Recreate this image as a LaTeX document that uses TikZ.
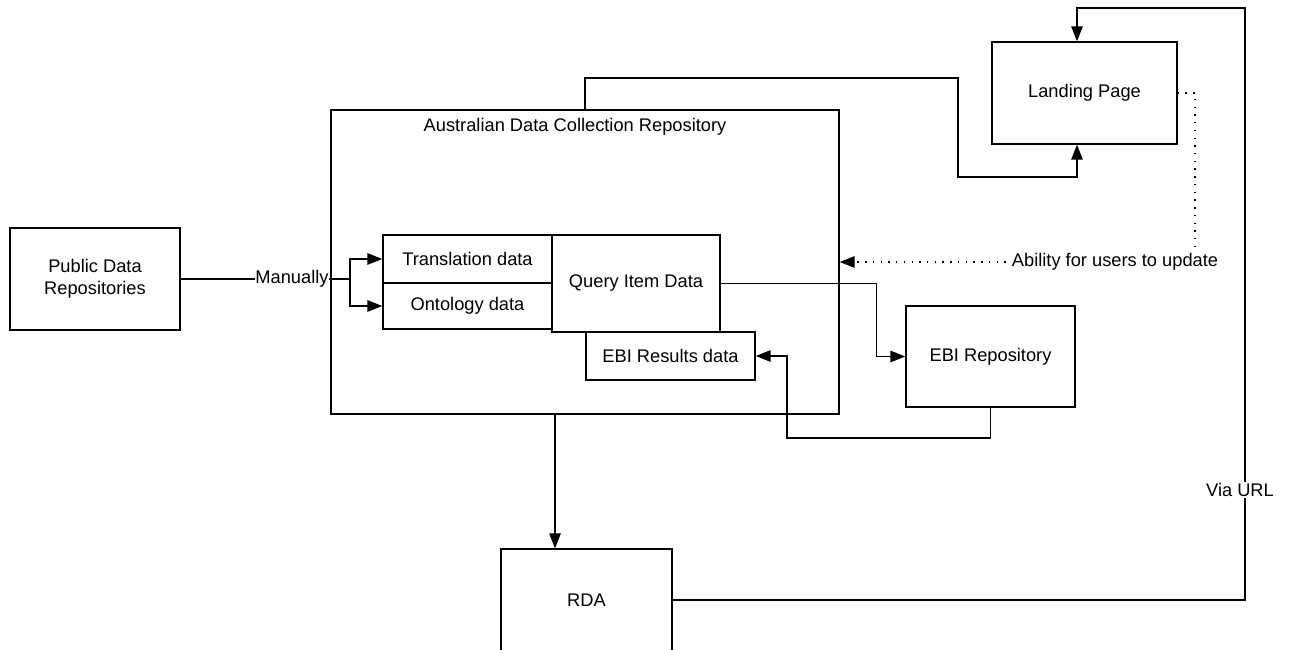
\documentclass[tikz,border=0pt]{standalone}
\usepackage{fontspec}
\setmainfont{Liberation Sans}
\usetikzlibrary{arrows.meta}

\begin{document}
\begin{tikzpicture}[x=0.02cm, y=-0.02cm,
    every node/.style={font=\fontsize{10.4}{12.5}\selectfont},
    box/.style={draw, line width=0.8pt, align=center, inner sep=0pt},
    arr/.style={line width=0.8pt, -{Triangle[length=8.5pt,width=6.5pt]}},
    link/.style={line width=0.8pt},
    dots/.style={line width=0.9pt, dash pattern=on 0.8pt off 3.6pt}]
      \useasboundingbox (0,0) rectangle (1290,649);

      % Boxes
      \node[box, minimum width=3.4cm, minimum height=2.04cm] (pub) at (95,279) {Public Data\\Repositories};
      \node[box, minimum width=10.16cm, minimum height=6.08cm] (adcr) at (585,262) {};
      \node (adcrtitle) at (575,127) {Australian Data Collection Repository};
      \node[box, minimum width=3.38cm, minimum height=0.96cm] (trans) at (467.5,259) {Translation data};
      \node[box, minimum width=3.38cm, minimum height=0.92cm] (onto) at (467.5,306) {Ontology data};
      \node[box, minimum width=3.36cm, minimum height=1.94cm] (query) at (636,283.5) {Query Item Data};
      \node[box, minimum width=3.38cm, minimum height=0.96cm] (ebires) at (670.5,356) {EBI Results data};
      \node[box, minimum width=3.7cm, minimum height=2.04cm] (landing) at (1084.5,93) {Landing Page};
      \node[box, minimum width=3.38cm, minimum height=2.02cm] (ebirepo) at (990.5,356.5) {EBI Repository};
      \node[box, minimum width=3.42cm, minimum height=2.04cm] (rda) at (586.5,600) {RDA};

      % Manually
      \node[inner sep=0pt] (manually) at (292,279) {Manually};
      \coordinate (split) at (350,279);
      \draw[link] (pub.east) -- (manually.west);
      \draw[arr] (manually.east) -- (split) |- (trans.west);
      \draw[arr] (split) |- (onto.west);

      % Query Item Data to EBI
      \draw[arr] (query.east) -- ++(156,0) |- (ebirepo.west);
      \draw[arr] (ebirepo.south) |- (787,438) |- (ebires.east);

      % Repository to RDA
      \draw[arr] ([xshift=-0.6cm]adcr.south) -- ([xshift=-0.6cm]adcr.south |- rda.north);

      % Repository to Landing Page
      \coordinate (lpbot) at ([xshift=-0.15cm]landing.south);
      \coordinate (lptop) at ([xshift=-0.15cm]landing.north);
      \draw[arr] (adcr.north) |- (958,78) -- (958,177) -| (lpbot);

      % RDA to Landing Page
      \draw[arr] (rda.east) -- (1245,600) -- (1245,8) -| (lptop);
      \node[fill=white, inner sep=1pt] (viaurl) at (1240,490) {Via URL};

      % Users update
      \node (update) at (1115,262) {Ability for users to update};
      \draw[dots] (landing.east) -| ([xshift=1.6cm]update.north);
      \draw[dots, -{Triangle[length=8.5pt,width=6.5pt]}] (update.west) -- (update.west -| adcr.east);
    \end{tikzpicture}
\end{document}
